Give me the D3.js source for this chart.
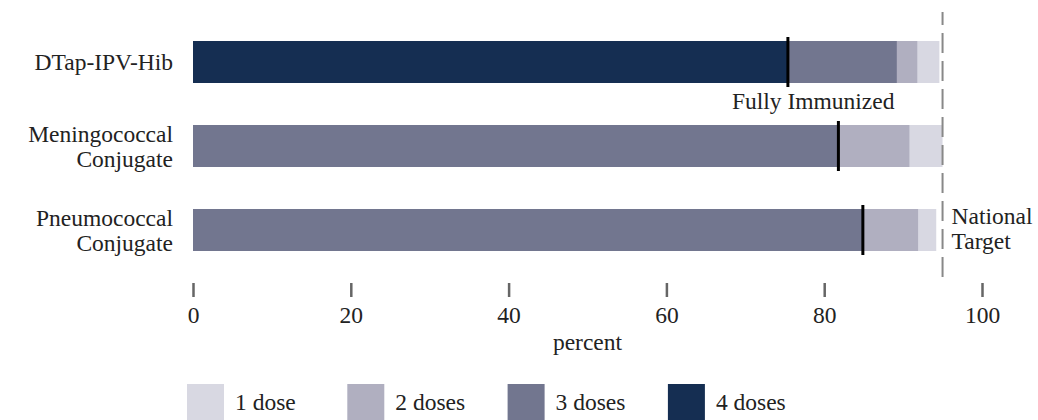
<!DOCTYPE html>
<html>
<head>
<meta charset="utf-8">
<script src="https://cdn.jsdelivr.net/npm/d3@7"></script>
<style>
  html, body { margin: 0; padding: 0; background: #fff; }
  svg { display: block; }
  text { font-family: "Liberation Serif", "Times New Roman", serif; fill: #222; }
</style>
</head>
<body>
<svg id="chart" width="1038" height="420"></svg>
<script>
// ---- data ----
const categories = ["DTap-IPV-Hib", "Meningococcal Conjugate", "Pneumococcal Conjugate"];
const labelLines = [["DTap-IPV-Hib"], ["Meningococcal", "Conjugate"], ["Pneumococcal", "Conjugate"]];
// cumulative coverage (percent) by number of doses received
const atLeast1Dose = [94.6, 95.0, 94.2];
const atLeast2Doses = [91.8, 90.8, 91.9];
const atLeast3Doses = [89.2, 81.8, 84.9];
const fourDoses = [75.4, null, null];
const fullyImmunized = [75.4, 81.8, 84.9];
const nationalTarget = 95;
const xTicks = [0, 20, 40, 60, 80, 100];
const legendLabels = ["1 dose", "2 doses", "3 doses", "4 doses"];
const doseColors = ["#d8d8e2", "#b0afc0", "#72768f", "#152e52"];

// ---- layout ----
const svg = d3.select("#chart");
const FS = 23.5;
const x = d3.scaleLinear().domain([0, 100]).range([193, 982]);
const y = d3.scaleBand().domain(categories).range([20, 272]).paddingInner(0.5).paddingOuter(0.25);

const series = [atLeast1Dose, atLeast2Doses, atLeast3Doses, fourDoses];

// bars (drawn largest first, overlapping)
series.forEach((vals, si) => {
  svg.append("g").selectAll("rect")
    .data(categories.map((c, i) => ({c, v: vals[i]})).filter(d => d.v != null))
    .join("rect")
    .attr("x", x(0))
    .attr("y", d => y(d.c))
    .attr("width", d => x(d.v) - x(0))
    .attr("height", y.bandwidth())
    .attr("fill", doseColors[si]);
});

// fully immunized markers
svg.append("g").selectAll("line")
  .data(categories.map((c, i) => ({c, v: fullyImmunized[i]})))
  .join("line")
  .attr("x1", d => x(d.v)).attr("x2", d => x(d.v))
  .attr("y1", d => y(d.c) - 4).attr("y2", d => y(d.c) + y.bandwidth() + 4)
  .attr("stroke", "#000").attr("stroke-width", 3);

svg.append("text")
  .attr("x", x((fullyImmunized[0] + fullyImmunized[1]) / 2))
  .attr("y", y(categories[0]) + y.bandwidth() + 26)
  .attr("text-anchor", "middle")
  .style("font-size", FS + "px")
  .text("Fully Immunized");

// national target line
svg.append("line")
  .attr("x1", x(nationalTarget)).attr("x2", x(nationalTarget))
  .attr("y1", 12).attr("y2", 280)
  .attr("stroke", "#888").attr("stroke-width", 2)
  .attr("stroke-dasharray", "20,8").attr("stroke-dashoffset", 7);

const tgt = svg.append("text")
  .attr("x", x(nationalTarget) + 9)
  .attr("y", y(categories[2]) + y.bandwidth() / 2 - 6)
  .style("font-size", FS + "px");
tgt.append("tspan").attr("x", x(nationalTarget) + 9).text("National");
tgt.append("tspan").attr("x", x(nationalTarget) + 9).attr("dy", 25).text("Target");

// category labels
categories.forEach((c, i) => {
  const lines = labelLines[i];
  const cy = y(c) + y.bandwidth() / 2;
  const first = lines.length === 1 ? cy + 8 : cy - 4;
  const t = svg.append("text")
    .attr("text-anchor", "end")
    .style("font-size", FS + "px");
  lines.forEach((ln, k) => {
    t.append("tspan").attr("x", 173).attr("y", first + k * 25).text(ln);
  });
});

// x axis
const axis = d3.axisBottom(x).tickValues(xTicks).tickSize(14).tickPadding(9).tickFormat(d3.format("d"));
const gx = svg.append("g").attr("transform", "translate(0,283)").call(axis);
gx.select(".domain").remove();
gx.selectAll(".tick line").attr("stroke", "#666").attr("stroke-width", 2.5);
gx.selectAll(".tick text")
  .attr("fill", "#222")
  .style("font-family", "'Liberation Serif', serif")
  .style("font-size", FS + "px");

svg.append("text")
  .attr("x", (x(0) + x(100)) / 2)
  .attr("y", 350)
  .attr("text-anchor", "middle")
  .style("font-size", FS + "px")
  .text("percent");

// legend
const leg = svg.append("g").selectAll("g")
  .data(legendLabels)
  .join("g")
  .attr("transform", (d, i) => `translate(${187 + i * 160.3},384)`);
leg.append("rect").attr("width", 37).attr("height", 37).attr("fill", (d, i) => doseColors[i]);
leg.append("text").attr("x", 48).attr("y", 26).style("font-size", FS + "px").text(d => d);
</script>
</body>
</html>
